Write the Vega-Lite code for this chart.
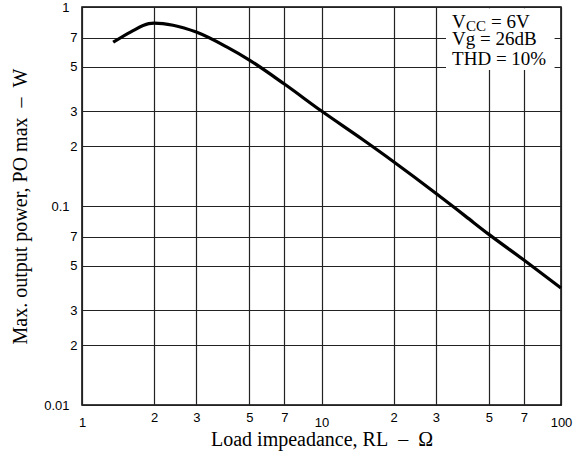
{
  "$schema": "https://vega.github.io/schema/vega-lite/v6.json",
  "width": 479,
  "height": 398,
  "autosize": "none",
  "padding": {"left": 82, "top": 7, "right": 21, "bottom": 54},
  "background": "white",
  "config": {
    "view": {"stroke": "black", "strokeWidth": 1.5},
    "axis": {
      "labelFont": "Liberation Sans",
      "labelFontSize": 13,
      "labelColor": "black",
      "titleFont": "Liberation Serif",
      "titleFontSize": 20,
      "titleFontWeight": "normal",
      "titleColor": "black",
      "ticks": false,
      "domain": false,
      "grid": true,
      "gridColor": "#222222",
      "gridWidth": 1.2,
      "gridOpacity": 1
    }
  },
  "datasets": {
    "curve": [
      {"R": 1.35, "P": 0.665},
      {"R": 1.6, "P": 0.75},
      {"R": 1.9, "P": 0.825},
      {"R": 2.0, "P": 0.83},
      {"R": 2.4, "P": 0.81},
      {"R": 3, "P": 0.748},
      {"R": 4, "P": 0.632},
      {"R": 5, "P": 0.541},
      {"R": 7, "P": 0.41},
      {"R": 10, "P": 0.3},
      {"R": 15, "P": 0.214},
      {"R": 20, "P": 0.167},
      {"R": 30, "P": 0.116},
      {"R": 40, "P": 0.0887},
      {"R": 50, "P": 0.072},
      {"R": 70, "P": 0.0535},
      {"R": 100, "P": 0.0387}
    ]
  },
  "layer": [
    {
      "data": {"values": [{}]},
      "mark": {"type": "rect", "fill": "white", "stroke": null},
      "encoding": {
        "x": {"datum": 33.1, "type": "quantitative", "scale": {"type": "log", "domain": [1, 100], "nice": false}},
        "x2": {"datum": 94},
        "y": {"datum": 0.482, "type": "quantitative"},
        "y2": {"datum": 0.985}
      }
    },
    {
      "data": {"name": "curve"},
      "mark": {"type": "line", "color": "black", "strokeWidth": 3.2, "interpolate": "monotone"},
      "encoding": {
        "x": {
          "field": "R",
          "type": "quantitative",
          "scale": {"type": "log", "domain": [1, 100], "nice": false},
          "axis": {
            "values": [1, 2, 3, 5, 7, 10, 20, 30, 50, 70, 100],
            "labelExpr": "indexof([1,10,100], datum.value) >= 0 ? format(datum.value, '~g') : format(datum.value / pow(10, floor(log(datum.value) / LN10 + 1e-9)), '.0f')",
            "labelPadding": {"condition": {"test": "indexof([1,10,100], datum.value) >= 0", "value": 11}, "value": 6},
            "labelFlush": false,
            "labelOverlap": false,
            "title": "Load impeadance, RL\u00a0\u00a0–\u00a0\u00a0Ω",
            "titlePadding": 0
          }
        },
        "y": {
          "field": "P",
          "type": "quantitative",
          "scale": {"type": "log", "domain": [0.01, 1], "nice": false},
          "axis": {
            "values": [0.01, 0.02, 0.03, 0.05, 0.07, 0.1, 0.2, 0.3, 0.5, 0.7, 1],
            "labelExpr": "indexof([0.01,0.1,1], datum.value) >= 0 ? format(datum.value, '~g') : format(datum.value / pow(10, floor(log(datum.value) / LN10 + 1e-9)), '.0f')",
            "labelPadding": {"condition": {"test": "indexof([0.01,0.1,1], datum.value) >= 0", "value": 13}, "value": 5},
            "labelFlush": false,
            "labelOverlap": false,
            "title": "Max. output power, PO max\u00a0\u00a0–\u00a0\u00a0W",
            "titlePadding": 13
          }
        }
      }
    },
    {
      "data": {"values": [{}]},
      "mark": {"type": "text", "align": "left", "baseline": "alphabetic", "font": "Liberation Serif", "fontSize": 19, "color": "black"},
      "encoding": {
        "x": {"datum": 35.1, "type": "quantitative"},
        "y": {"datum": 0.784, "type": "quantitative"},
        "text": {"value": "V"}
      }
    },
    {
      "data": {"values": [{}]},
      "mark": {"type": "text", "align": "left", "baseline": "alphabetic", "font": "Liberation Serif", "fontSize": 15, "color": "black", "dx": 14, "dy": 3},
      "encoding": {
        "x": {"datum": 35.1, "type": "quantitative"},
        "y": {"datum": 0.784, "type": "quantitative"},
        "text": {"value": "CC"}
      }
    },
    {
      "data": {"values": [{}]},
      "mark": {"type": "text", "align": "left", "baseline": "alphabetic", "font": "Liberation Serif", "fontSize": 19, "color": "black", "dx": 39},
      "encoding": {
        "x": {"datum": 35.1, "type": "quantitative"},
        "y": {"datum": 0.784, "type": "quantitative"},
        "text": {"value": "= 6V"}
      }
    },
    {
      "data": {"values": [{"t": "Vg = 26dB", "P": 0.644}, {"t": "THD = 10%", "P": 0.512}]},
      "mark": {"type": "text", "align": "left", "baseline": "alphabetic", "font": "Liberation Serif", "fontSize": 19, "color": "black"},
      "encoding": {
        "x": {"datum": 35.1, "type": "quantitative"},
        "y": {"field": "P", "type": "quantitative"},
        "text": {"field": "t"}
      }
    }
  ]
}
